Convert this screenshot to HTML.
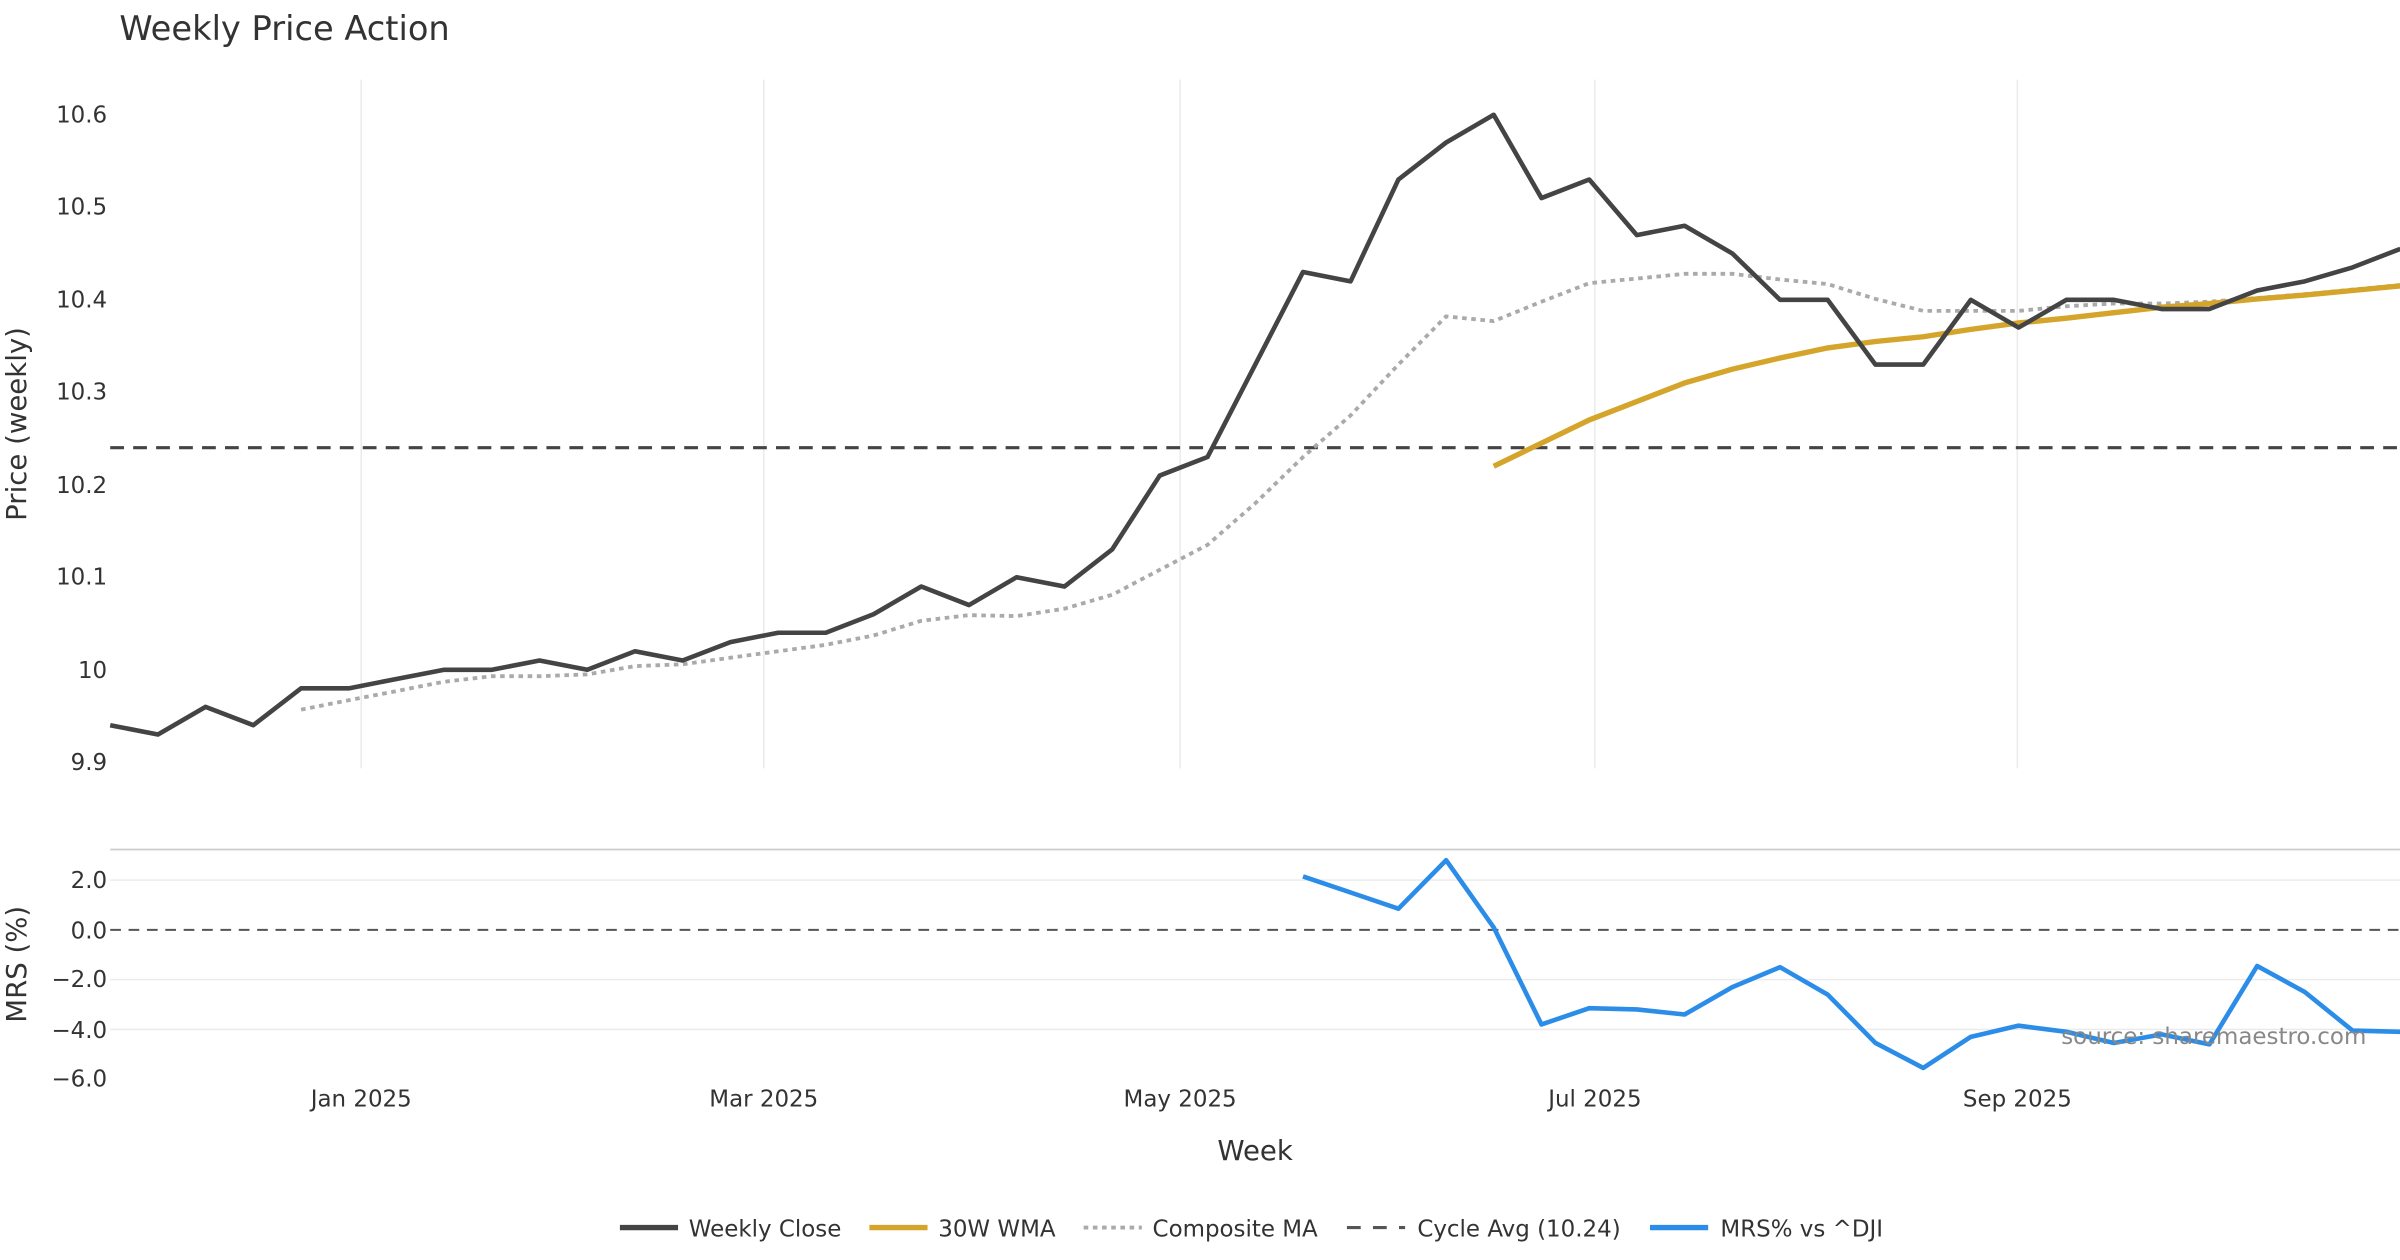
<!DOCTYPE html>
<html><head><meta charset="utf-8"><style>
html,body{margin:0;padding:0;background:#fff;}
svg{display:block;font-family:"DejaVu Sans","Liberation Sans",sans-serif;}
</style></head><body>
<svg id="s" width="2400" height="1260" viewBox="0 0 1568 823.2" xmlns="http://www.w3.org/2000/svg">
<rect width="1568" height="823.2" fill="#fff"/>
<text x="78" y="26" font-size="22" fill="#333">Weekly Price Action</text>
<g stroke="#ebebeb" stroke-width="1">
<line x1="236" y1="52" x2="236" y2="502"/><line x1="499" y1="52" x2="499" y2="502"/>
<line x1="771" y1="52" x2="771" y2="502"/><line x1="1042" y1="52" x2="1042" y2="502"/>
<line x1="1318" y1="52" x2="1318" y2="502"/>
<line x1="72" y1="575" x2="1568" y2="575"/><line x1="72" y1="640" x2="1568" y2="640"/>
<line x1="72" y1="672.5" x2="1568" y2="672.5"/>
</g>
<line x1="72" y1="555" x2="1568" y2="555" stroke="#ccc" stroke-width="1.2"/>
<g font-size="15" fill="#333" text-anchor="end">
<text x="70" y="80">10.6</text><text x="70" y="140">10.5</text><text x="70" y="201">10.4</text>
<text x="70" y="261">10.3</text><text x="70" y="322">10.2</text><text x="70" y="382">10.1</text>
<text x="70" y="443">10</text><text x="70" y="503">9.9</text>
<text x="70" y="580">2.0</text><text x="70" y="613">0.0</text><text x="70" y="645">−2.0</text>
<text x="70" y="678">−4.0</text><text x="70" y="710">−6.0</text>
</g>
<g font-size="15" fill="#333" text-anchor="middle">
<text x="236" y="723">Jan 2025</text><text x="499" y="723">Mar 2025</text><text x="771" y="723">May 2025</text>
<text x="1042" y="723">Jul 2025</text><text x="1318" y="723">Sep 2025</text>
<text x="820" y="758" font-size="18">Week</text>
</g>
<text transform="translate(17,277) rotate(-90)" font-size="18" fill="#333" text-anchor="middle">Price (weekly)</text>
<text transform="translate(17,630) rotate(-90)" font-size="18" fill="#333" text-anchor="middle">MRS (%)</text>
<line x1="72" y1="292.5" x2="1568" y2="292.5" stroke="#444" stroke-width="2" stroke-dasharray="9,6"/>
<line x1="72" y1="607.5" x2="1568" y2="607.5" stroke="#555" stroke-width="1.3" stroke-dasharray="7,5"/>
<g id="series"></g>
<text x="1546" y="682" font-size="15" fill="#888" text-anchor="end">source: sharemaestro.com</text>
<g font-size="15" fill="#333">
<line x1="405" y1="802" x2="443" y2="802" stroke="#444" stroke-width="3.5"/><text x="450" y="808">Weekly Close</text>
<line x1="568" y1="802" x2="606" y2="802" stroke="#d4a52a" stroke-width="3.5"/><text x="613" y="808">30W WMA</text>
<line x1="708" y1="802" x2="746" y2="802" stroke="#aaa" stroke-width="2.5" stroke-dasharray="3,3"/><text x="753" y="808">Composite MA</text>
<line x1="880" y1="802" x2="918" y2="802" stroke="#555" stroke-width="2" stroke-dasharray="9,8"/><text x="926" y="808">Cycle Avg (10.24)</text>
<line x1="1078" y1="802" x2="1116" y2="802" stroke="#2b8de8" stroke-width="3.5"/><text x="1124" y="808">MRS% vs ^DJI</text>
</g>
</svg>
<script>
var X=function(i){return 72+i*31.17;};
var Y=function(v){return 75+(10.6-v)*604.3;};
var M=function(v){return 607.5-v*16.25;};
var close=[9.94,9.93,9.96,9.94,9.98,9.98,9.99,10.00,10.00,10.01,10.00,10.02,10.01,10.03,10.04,10.04,10.06,10.09,10.07,10.10,10.09,10.13,10.21,10.23,10.33,10.43,10.42,10.53,10.57,10.60,10.51,10.53,10.47,10.48,10.45,10.40,10.40,10.33,10.33,10.40,10.37,10.40,10.40,10.39,10.39,10.41,10.42,10.435,10.455];
var wma=[10.22,10.245,10.27,10.29,10.31,10.325,10.337,10.348,10.355,10.36,10.368,10.375,10.38,10.386,10.392,10.396,10.401,10.405,10.41,10.415];
var comp=[9.957,9.967,9.977,9.987,9.993,9.993,9.995,10.004,10.006,10.013,10.02,10.027,10.037,10.053,10.059,10.058,10.066,10.081,10.108,10.135,10.18,10.23,10.275,10.33,10.382,10.377,10.398,10.418,10.423,10.428,10.428,10.422,10.417,10.401,10.388,10.388,10.388,10.393,10.396,10.396,10.398,10.402,10.406,10.411,10.416];
var mrs=[2.15,1.5,0.85,2.8,0.1,-3.8,-3.15,-3.2,-3.4,-2.3,-1.5,-2.6,-4.55,-5.55,-4.3,-3.85,-4.1,-4.55,-4.2,-4.6,-1.45,-2.5,-4.05,-4.1];
function pts(a,s,f){return a.map(function(v,k){return X(s+k).toFixed(1)+","+f(v).toFixed(1);}).join(" ");}
var g=document.getElementById("series");
g.innerHTML=
'<polyline fill="none" stroke="#aaa" stroke-width="2.5" stroke-dasharray="3,3" points="'+pts(comp,4,Y)+'"/>'+
'<polyline fill="none" stroke="#d4a52a" stroke-width="3.5" points="'+pts(wma,29,Y)+'"/>'+
'<polyline fill="none" stroke="#444" stroke-width="3" stroke-linejoin="round" points="'+pts(close,0,Y)+'"/>'+
'<polyline fill="none" stroke="#2b8de8" stroke-width="3" stroke-linejoin="round" points="'+pts(mrs,25,M)+'"/>';
</script>
</body></html>
